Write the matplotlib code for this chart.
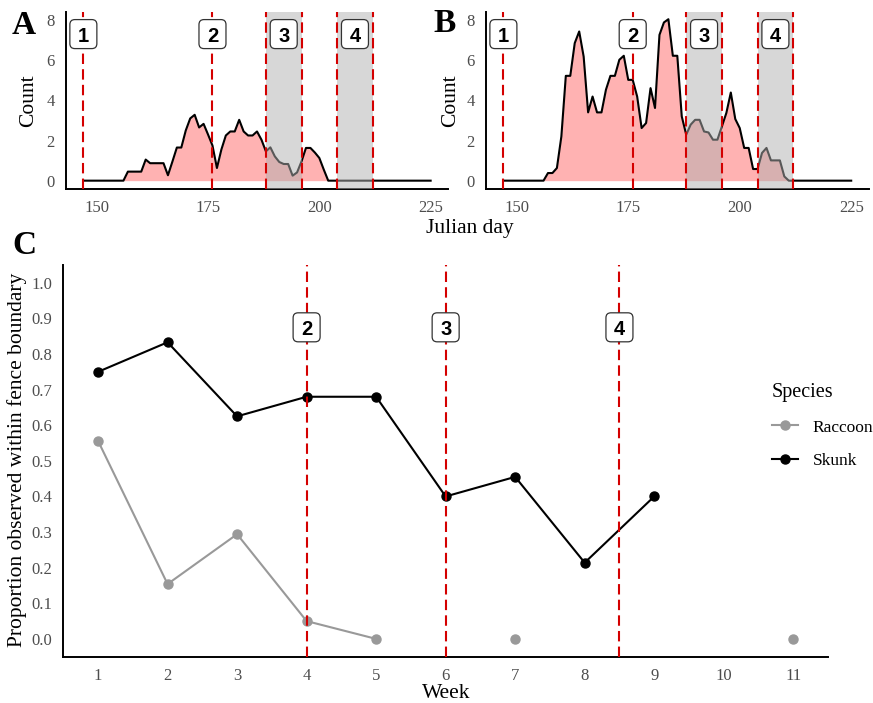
import numpy as np
import matplotlib
matplotlib.use('Agg')
import matplotlib.pyplot as plt
import matplotlib.transforms as mtransforms
from matplotlib.patches import FancyBboxPatch
from matplotlib.lines import Line2D

# daily counts (smoothed) for panels A and B, Julian days 147-225
days = np.arange(147, 226)
count_a = [0, 0, 0, 0, 0, 0, 0, 0, 0, 0,
           0.45, 0.45, 0.45, 0.45, 1.05, 0.87, 0.87, 0.87, 0.87, 0.27,
           0.95, 1.65, 1.65, 2.5, 3.1, 3.28, 2.65, 2.83, 2.3, 1.75,
           0.63, 1.55, 2.25, 2.45, 2.45, 3.03, 2.45, 2.25, 2.25, 2.45,
           2.04, 1.46, 1.66, 1.21, 0.93, 0.83, 0.83, 0.25, 0.41, 0.96,
           1.63, 1.63, 1.4, 1.13, 0.55,
           0, 0, 0, 0, 0, 0, 0, 0, 0, 0, 0, 0, 0, 0, 0, 0, 0, 0, 0, 0, 0, 0, 0, 0]
count_b = [0, 0, 0, 0, 0, 0, 0, 0, 0, 0,
           0.38, 0.38, 0.63, 2.2, 5.22, 5.22, 6.85, 7.43, 6.18, 3.4,
           4.19, 3.4, 3.4, 4.53, 5.22, 5.22, 6.02, 6.22, 5.02, 5.02,
           4.19, 2.62, 2.87, 4.61, 3.62, 7.26, 7.88, 8.04, 6.22, 6.22,
           3.2, 2.29, 2.79, 3.03, 3.03, 2.45, 2.4, 2.04, 2.04, 2.7,
           3.37, 4.39, 3.07, 2.62, 1.63, 1.63, 0.58, 0.58, 1.38, 1.63,
           1.01, 1.01, 1.01, 0.21,
           0, 0, 0, 0, 0, 0, 0, 0, 0, 0, 0, 0, 0, 0, 0]

period_lines = [147, 176, 188, 196, 204, 212]
shade_periods = [(188, 196), (204, 212)]
period_labels = ['1', '2', '3', '4']
period_label_days = [147, 176, 192, 208]

# panel C
weeks = np.arange(1, 12)
raccoon = [0.556, 0.154, 0.294, 0.05, 0.0, np.nan, 0.0, np.nan, np.nan, np.nan, 0.0]
skunk = [0.75, 0.833, 0.625, 0.68, 0.68, 0.40, 0.455, 0.214, 0.40, np.nan, np.nan]
week_lines = [4, 6, 8.5]
week_labels = ['2', '3', '4']

RED = '#d40000'
TICK_GREY = '#4d4d4d'

plt.rcParams['font.family'] = 'Liberation Serif'

fig = plt.figure(figsize=(8.73, 7.03), dpi=100)
W, H = 873, 703


def px_axes(x0, y0, x1, y1):
    return fig.add_axes([x0 / W, 1 - y1 / H, (x1 - x0) / W, (y1 - y0) / H])


def style(ax):
    for s in ['top', 'right']:
        ax.spines[s].set_visible(False)
    for s in ['left', 'bottom']:
        ax.spines[s].set_linewidth(1.4)
    ax.tick_params(length=0, labelsize=12, labelcolor=TICK_GREY, pad=8)


def boxed_label(ax, x, y, s):
    # box of fixed size (inches) centred on a data point
    trans = fig.dpi_scale_trans + mtransforms.ScaledTranslation(x, y, ax.transData)
    w, h = 0.27, 0.29
    box = FancyBboxPatch((-w / 2, -h / 2), w, h,
                         boxstyle='round,pad=0,rounding_size=0.05',
                         fc='white', ec='#333333', lw=0.9,
                         transform=trans, clip_on=False, zorder=6)
    ax.add_patch(box)
    ax.text(x, y, s, ha='center', va='center_baseline', fontsize=14.5,
            fontweight='bold', family='Liberation Sans', zorder=7, clip_on=False)


def count_panel(ax, vals):
    ax.fill_between(days, vals, 0, color='red', alpha=0.3, lw=0, zorder=1)
    ax.plot(days, vals, color='black', lw=1.5, zorder=2)
    for a, b in shade_periods:
        ax.axvspan(a, b, color='#b0b0b0', alpha=0.5, lw=0, zorder=3)
    for d in period_lines:
        ax.axvline(d, color=RED, lw=1.5, dashes=(5, 2.5), zorder=4)
    ax.set_xlim(143.1, 228.9)
    ax.set_ylim(-0.4, 8.4)
    ax.set_xticks([150, 175, 200, 225])
    ax.set_yticks([0, 2, 4, 6, 8])
    style(ax)
    ax.set_ylabel('Count', fontsize=15.5)
    for d, lab in zip(period_label_days, period_labels):
        boxed_label(ax, d, 7.3, lab)


ax_a = px_axes(66, 12, 448, 188.7)
count_panel(ax_a, count_a)
ax_a.yaxis.set_label_coords((38 - 66) / 382, 0.5)

ax_b = px_axes(486, 12, 868.6, 188.7)
count_panel(ax_b, count_b)
ax_b.yaxis.set_label_coords((460 - 486) / 382.6, 0.5)

fig.text(470 / W, 1 - 228 / H, 'Julian day', ha='center', va='center', fontsize=15.5)

# panel C
ax_c = px_axes(63.3, 265, 828, 656.7)
ax_c.plot(weeks, raccoon, color='#999999', lw=1.5, marker='o', ms=6.5, zorder=3)
ax_c.plot(weeks, skunk, color='black', lw=1.5, marker='o', ms=6.5, zorder=3)
for wk in week_lines:
    ax_c.axvline(wk, color=RED, lw=1.5, dashes=(5, 2.5), zorder=4)
for wk, lab in zip(week_lines, week_labels):
    boxed_label(ax_c, wk, 0.875, lab)
ax_c.set_xlim(0.5, 11.5)
ax_c.set_ylim(-0.05, 1.05)
ax_c.set_xticks(weeks)
ax_c.set_yticks(np.arange(0, 1.01, 0.1))
ax_c.set_yticklabels(['%.1f' % v for v in np.arange(0, 1.01, 0.1)])
style(ax_c)
ax_c.set_ylabel('Proportion observed within fence boundary', fontsize=15.5)
ax_c.yaxis.set_label_coords((27 - 63.3) / 764.7, 0.502)
fig.text(446 / W, 1 - 693 / H, 'Week', ha='center', va='center', fontsize=15.5)

handles = [Line2D([], [], color='#999999', lw=1.5, marker='o', ms=6.5),
           Line2D([], [], color='black', lw=1.5, marker='o', ms=6.5)]
leg = ax_c.legend(handles, ['Raccoon', 'Skunk'], title='Species', frameon=False,
                  loc='upper left', bbox_to_anchor=(771.7 / W, 1 - 383 / H),
                  bbox_transform=fig.transFigure, borderpad=0, borderaxespad=0,
                  fontsize=12.5, title_fontsize=14.5, handlelength=1.5,
                  handletextpad=0.85, labelspacing=1.0, alignment='left')

# panel letters
fig.text(24 / W, 1 - 25 / H, 'A', ha='center', va='center', fontsize=24, fontweight='bold')
fig.text(445 / W, 1 - 24 / H, 'B', ha='center', va='center', fontsize=24, fontweight='bold')
fig.text(24 / W, 1 - 245 / H, 'C', ha='center', va='center', fontsize=24, fontweight='bold')

fig.savefig('out.png', dpi=100)
